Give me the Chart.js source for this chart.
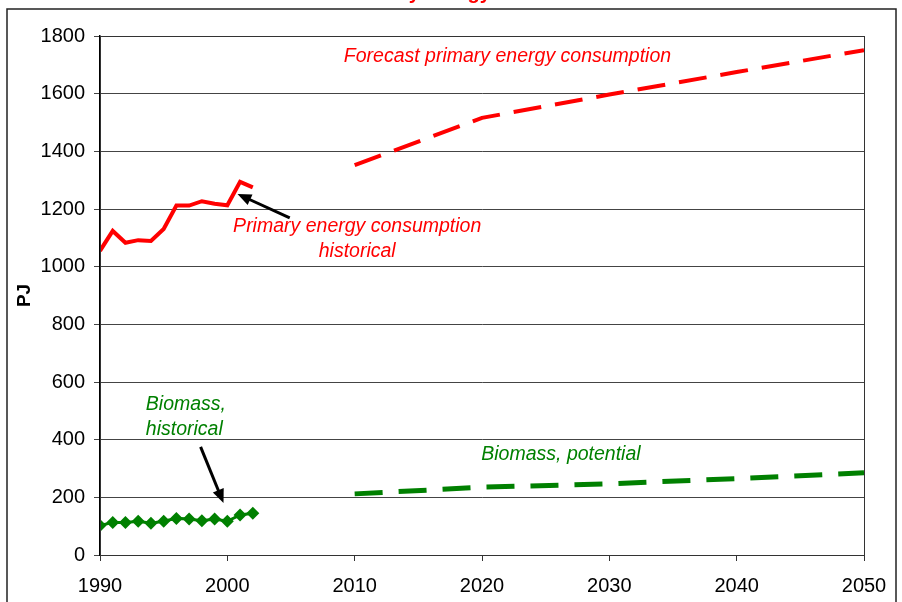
<!DOCTYPE html>
<html>
<head>
<meta charset="utf-8">
<script src="https://cdn.jsdelivr.net/npm/chart.js@4/dist/chart.umd.min.js"></script>
<style>
  html, body { margin: 0; padding: 0; background: #fff; }
  #wrap { width: 902px; height: 602px; }
</style>
</head>
<body>
<div id="wrap"><canvas id="energyChart" width="902" height="602"></canvas></div>
<script>
const histYears = [1990, 1991, 1992, 1993, 1994, 1995, 1996, 1997, 1998, 1999, 2000, 2001, 2002];
const primaryHistorical = [1055, 1124, 1083, 1092, 1089, 1131, 1212, 1212, 1227, 1218, 1213, 1294, 1275];
const biomassHistorical = [102, 113, 113, 117, 110, 117, 127, 125, 119, 125, 117, 139, 145];

const forecastYears = [2010, 2020, 2030, 2040, 2050];
const primaryForecast = [1352, 1516, 1597, 1675, 1751];
const biomassPotential = [212, 235, 247, 265, 285];

const yTicks = [0, 200, 400, 600, 800, 1000, 1200, 1400, 1600, 1800];
const xTicks = [1990, 2000, 2010, 2020, 2030, 2040, 2050];

const RED = "#ff0000";
const GREEN = "#008000";
const FONT = "'Liberation Sans', Arial, sans-serif";

const toPoints = (xs, ys) => xs.map((x, i) => ({ x, y: ys[i] }));

// labels and arrows, placed in data units
const notes = [
  { text: "Forecast primary energy consumption", x: 2022, y: 1727, color: RED, align: "center" },
  { text: "Primary energy consumption", x: 2010.2, y: 1140, color: RED, align: "center" },
  { text: "historical", x: 2010.2, y: 1053, color: RED, align: "center" },
  { text: "Biomass,", x: 1993.6, y: 522, color: GREEN, align: "left" },
  { text: "historical", x: 1993.6, y: 435, color: GREEN, align: "left" },
  { text: "Biomass, potential", x: 2026.2, y: 347, color: GREEN, align: "center" }
];
const arrows = [
  { from: [2004.9, 1169], to: [2000.8, 1252] },
  { from: [1997.9, 375], to: [1999.7, 180] }
];

const decorPlugin = {
  id: "decor",
  beforeDraw(chart) {
    const ctx = chart.ctx;
    ctx.save();
    ctx.strokeStyle = "#222";
    ctx.lineWidth = 1.5;
    ctx.strokeRect(7, 9, 889, 700);
    // clipped title at the very top
    ctx.fillStyle = RED;
    ctx.font = "bold 20px " + FONT;
    ctx.textAlign = "center";
    ctx.textBaseline = "alphabetic";
    ctx.fillText("Primary energy and biomass", 482, -1);
    ctx.restore();
  },
  afterDraw(chart) {
    const ctx = chart.ctx;
    const xs = chart.scales.x;
    const ys = chart.scales.y;
    const a = chart.chartArea;
    ctx.save();
    ctx.strokeStyle = "#333";
    ctx.lineWidth = 1;
    ctx.strokeRect(Math.round(a.left) + 0.5, Math.round(a.top) + 0.5,
      Math.round(a.right - a.left), Math.round(a.bottom - a.top));

    ctx.font = "italic 19.5px " + FONT;
    ctx.textBaseline = "middle";
    notes.forEach((n) => {
      ctx.fillStyle = n.color;
      ctx.textAlign = n.align;
      ctx.fillText(n.text, xs.getPixelForValue(n.x), ys.getPixelForValue(n.y));
    });

    ctx.strokeStyle = "#000";
    ctx.fillStyle = "#000";
    ctx.lineWidth = 3;
    arrows.forEach((ar) => {
      const x1 = xs.getPixelForValue(ar.from[0]);
      const y1 = ys.getPixelForValue(ar.from[1]);
      const x2 = xs.getPixelForValue(ar.to[0]);
      const y2 = ys.getPixelForValue(ar.to[1]);
      const ang = Math.atan2(y2 - y1, x2 - x1);
      const head = 15;
      const bx = x2 - head * 0.8 * Math.cos(ang);
      const by = y2 - head * 0.8 * Math.sin(ang);
      ctx.beginPath();
      ctx.moveTo(x1, y1);
      ctx.lineTo(bx, by);
      ctx.stroke();
      ctx.beginPath();
      ctx.moveTo(x2, y2);
      ctx.lineTo(x2 - head * Math.cos(ang - 0.4), y2 - head * Math.sin(ang - 0.4));
      ctx.lineTo(x2 - head * Math.cos(ang + 0.4), y2 - head * Math.sin(ang + 0.4));
      ctx.closePath();
      ctx.fill();
    });
    ctx.restore();
  }
};

new Chart(document.getElementById("energyChart").getContext("2d"), {
  type: "line",
  data: {
    datasets: [
      {
        label: "Primary energy consumption historical",
        data: toPoints(histYears, primaryHistorical),
        borderColor: RED,
        borderWidth: 4,
        pointRadius: 0,
        tension: 0
      },
      {
        label: "Forecast primary energy consumption",
        data: toPoints(forecastYears, primaryForecast),
        borderColor: RED,
        borderWidth: 4,
        borderDash: [28, 14],
        pointRadius: 0,
        tension: 0
      },
      {
        label: "Biomass, historical",
        data: toPoints(histYears, biomassHistorical),
        borderColor: GREEN,
        backgroundColor: GREEN,
        borderWidth: 3,
        pointStyle: "rectRot",
        pointRadius: 6.5,
        pointBorderWidth: 0,
        tension: 0
      },
      {
        label: "Biomass, potential",
        data: toPoints(forecastYears, biomassPotential),
        borderColor: GREEN,
        borderWidth: 5,
        borderDash: [28, 16],
        pointRadius: 0,
        tension: 0
      }
    ]
  },
  options: {
    responsive: false,
    animation: false,
    devicePixelRatio: 1,
    layout: { padding: { top: 36, right: 38, left: 0, bottom: 0 } },
    plugins: {
      legend: { display: false },
      tooltip: { enabled: false }
    },
    scales: {
      x: {
        type: "linear",
        min: 1990,
        max: 2050,
        afterBuildTicks: (s) => { s.ticks = xTicks.map((v) => ({ value: v })); },
        afterFit: (s) => { s.height = 47; },
        border: { display: true, color: "#000", width: 1 },
        grid: { drawOnChartArea: false, drawTicks: true, tickLength: 6, color: "#333" },
        ticks: {
          color: "#000",
          padding: 13,
          maxRotation: 0,
          font: { family: FONT, size: 20 },
          callback: (v) => String(v)
        }
      },
      y: {
        min: 0,
        max: 1800,
        afterBuildTicks: (s) => { s.ticks = yTicks.map((v) => ({ value: v })); },
        afterFit: (s) => { s.width = 100; },
        border: { display: true, color: "#000", width: 1.5 },
        grid: { drawTicks: true, tickLength: 6, color: "#444", lineWidth: 1 },
        title: {
          display: true,
          text: "PJ",
          color: "#000",
          font: { family: FONT, size: 19, weight: "bold" },
          padding: { top: 13, bottom: 4 }
        },
        ticks: {
          color: "#000",
          padding: 9,
          font: { family: FONT, size: 20 },
          callback: (v) => String(v)
        }
      }
    }
  },
  plugins: [decorPlugin]
});
</script>
</body>
</html>
